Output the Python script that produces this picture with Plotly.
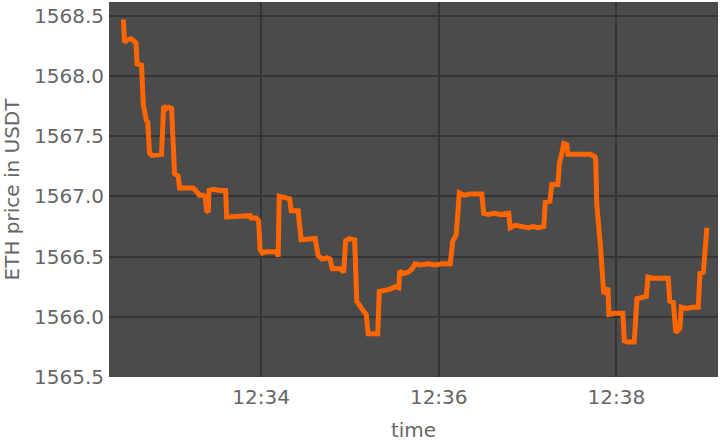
import plotly.graph_objects as go

DATE = "2023-10-05 "

times = [
    "12:32:26.9", "12:32:27.7", "12:32:29.4", "12:32:32.1", "12:32:34.1", "12:32:35.5",
    "12:32:36.2", "12:32:39.2", "12:32:40.4", "12:32:41.6", "12:32:42.6", "12:32:43.3",
    "12:32:44.6", "12:32:46.3", "12:32:49.7", "12:32:52.7", "12:32:54.1", "12:32:56.1",
    "12:32:57.8", "12:32:59.5", "12:33:01.5", "12:33:03.9", "12:33:04.9", "12:33:09.3",
    "12:33:14.0", "12:33:16.4", "12:33:18.4", "12:33:20.8", "12:33:22.2", "12:33:23.2",
    "12:33:24.2", "12:33:24.8", "12:33:27.5", "12:33:32.3", "12:33:36.0", "12:33:36.7",
    "12:33:42.4", "12:33:49.2", "12:33:52.6", "12:33:53.3", "12:33:56.6", "12:33:58.3",
    "12:33:59.3", "12:34:00.7", "12:34:03.4", "12:34:07.4", "12:34:10.5", "12:34:11.5",
    "12:34:12.2", "12:34:16.2", "12:34:19.3", "12:34:20.3", "12:34:25.0", "12:34:27.0",
    "12:34:31.1", "12:34:35.2", "12:34:36.5", "12:34:38.5", "12:34:41.2", "12:34:44.6",
    "12:34:46.6", "12:34:48.0", "12:34:51.4", "12:34:53.4", "12:34:55.8", "12:34:57.1",
    "12:34:59.5", "12:35:03.2", "12:35:04.6", "12:35:06.9", "12:35:09.0", "12:35:11.0",
    "12:35:12.3", "12:35:15.0", "12:35:18.8", "12:35:19.8", "12:35:23.8", "12:35:27.2",
    "12:35:30.6", "12:35:33.0", "12:35:33.6", "12:35:36.0", "12:35:39.4", "12:35:42.1",
    "12:35:44.1", "12:35:47.5", "12:35:52.9", "12:35:57.6", "12:36:02.4", "12:36:07.8",
    "12:36:09.5", "12:36:11.8", "12:36:13.9", "12:36:17.3", "12:36:21.3", "12:36:25.4",
    "12:36:29.1", "12:36:30.4", "12:36:33.5", "12:36:37.5", "12:36:41.6", "12:36:47.3",
    "12:36:48.3", "12:36:51.7", "12:36:56.4", "12:37:00.5", "12:37:03.9", "12:37:07.3",
    "12:37:11.0", "12:37:12.0", "12:37:15.1", "12:37:16.4", "12:37:20.5", "12:37:21.5",
    "12:37:23.2", "12:37:24.5", "12:37:26.6", "12:37:27.3", "12:37:32.3", "12:37:37.7",
    "12:37:42.4", "12:37:45.5", "12:37:46.1", "12:37:46.8", "12:37:47.5", "12:37:49.2",
    "12:37:51.5", "12:37:54.3", "12:37:55.0", "12:37:58.7", "12:38:04.4", "12:38:05.4",
    "12:38:07.7", "12:38:12.1", "12:38:13.9", "12:38:18.2", "12:38:20.3", "12:38:21.3",
    "12:38:24.3", "12:38:29.7", "12:38:35.1", "12:38:36.1", "12:38:38.5", "12:38:40.2",
    "12:38:42.9", "12:38:43.9", "12:38:47.3", "12:38:51.4", "12:38:55.4", "12:38:56.5",
    "12:38:58.8", "12:39:01.2",
]

prices = [
    1568.47, 1568.28, 1568.30, 1568.31, 1568.29, 1568.27,
    1568.10, 1568.09, 1567.76, 1567.70, 1567.62, 1567.63,
    1567.36, 1567.34, 1567.35, 1567.35, 1567.75, 1567.73,
    1567.74, 1567.73, 1567.19, 1567.17, 1567.07, 1567.07,
    1567.07, 1567.04, 1567.01, 1567.01, 1567.00, 1566.88,
    1566.87, 1567.05, 1567.06, 1567.05, 1567.05, 1566.83,
    1566.83, 1566.83, 1566.84, 1566.82, 1566.82, 1566.80,
    1566.56, 1566.53, 1566.54, 1566.54, 1566.54, 1566.50,
    1567.00, 1566.99, 1566.98, 1566.88, 1566.88, 1566.64,
    1566.64, 1566.65, 1566.65, 1566.51, 1566.48, 1566.49,
    1566.48, 1566.40, 1566.40, 1566.40, 1566.37, 1566.63,
    1566.65, 1566.64, 1566.13, 1566.08, 1566.05, 1566.02,
    1565.86, 1565.86, 1565.86, 1566.21, 1566.22, 1566.23,
    1566.25, 1566.24, 1566.38, 1566.36, 1566.37, 1566.40,
    1566.44, 1566.43, 1566.44, 1566.43, 1566.44, 1566.44,
    1566.63, 1566.68, 1567.03, 1567.01, 1567.02, 1567.02,
    1567.02, 1566.86, 1566.85, 1566.86, 1566.85, 1566.86,
    1566.74, 1566.76, 1566.75, 1566.74, 1566.75, 1566.74,
    1566.75, 1566.95, 1566.96, 1567.10, 1567.10, 1567.27,
    1567.36, 1567.44, 1567.43, 1567.35, 1567.35, 1567.35,
    1567.35, 1567.33, 1567.30, 1566.93, 1566.85, 1566.60,
    1566.19, 1566.24, 1566.02, 1566.03, 1566.03, 1565.80,
    1565.79, 1565.79, 1566.15, 1566.16, 1566.17, 1566.33,
    1566.32, 1566.32, 1566.32, 1566.13, 1566.12, 1565.87,
    1565.90, 1566.08, 1566.07, 1566.08, 1566.08, 1566.36,
    1566.37, 1566.74,
]

x_range = ["12:32:17.2", "12:39:08.7"]
y_range = [1565.5, 1568.615]
y_ticks = [1565.5, 1566.0, 1566.5, 1567.0, 1567.5, 1568.0, 1568.5]
x_ticks = ["12:34", "12:36", "12:38"]

fig = go.Figure()
fig.add_trace(go.Scatter(
    x=[DATE + t for t in times],
    y=prices,
    mode="lines",
    line=dict(color="#ff6600", width=5),
    showlegend=False,
))

font = dict(family="DejaVu Sans", size=20, color="#666666")

fig.update_layout(
    width=720, height=442,
    margin=dict(l=109, r=2, t=2, b=65, autoexpand=False),
    paper_bgcolor="white",
    plot_bgcolor="#4b4b4b",
    font=font,
    xaxis=dict(
        title=dict(text="time", font=font),
        range=[DATE + r for r in x_range],
        tickvals=[DATE + t for t in x_ticks],
        ticktext=x_ticks,
        showgrid=True, gridcolor="#353535", gridwidth=1.5,
        zeroline=False, showline=False, ticks="",
        ticklabelstandoff=6,
        tickfont=font,
    ),
    yaxis=dict(
        title=dict(text="ETH price in USDT", font=font, standoff=10),
        automargin=True,
        range=y_range,
        tickvals=y_ticks,
        tickformat=".1f",
        showgrid=True, gridcolor="#353535", gridwidth=1.5,
        zeroline=False, showline=False, ticks="",
        ticklabelstandoff=4,
        tickfont=font,
    ),
)

fig.write_html(
    "out.html",
    config={"displayModeBar": False},
    post_script="document.body.style.margin='0';",
)
